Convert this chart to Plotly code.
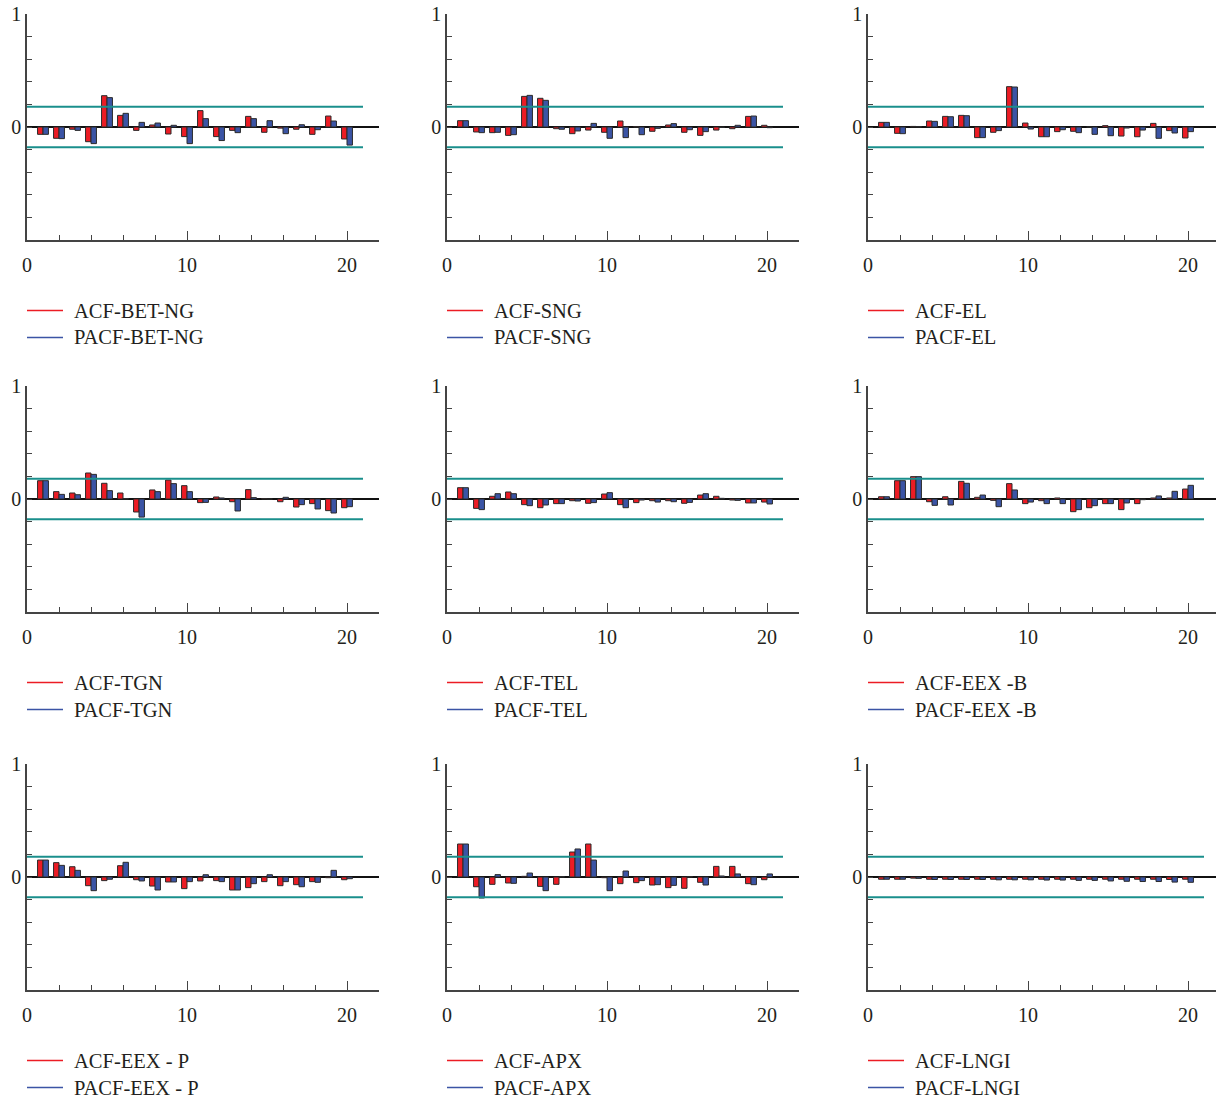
import plotly.graph_objects as go

# ---------------- data ----------------
lags = list(range(1, 21))
series_names = ["BET-NG", "SNG", "EL", "TGN", "TEL", "EEX -B", "EEX - P", "APX", "LNGI"]

acf_bet_ng = [-0.065, -0.10, -0.02, -0.13, 0.277, 0.103, -0.03, 0.018, -0.062, -0.085,
              0.145, -0.085, -0.03, 0.094, -0.047, -0.01, -0.02, -0.065, 0.097, -0.106]
pacf_bet_ng = [-0.065, -0.103, -0.03, -0.147, 0.26, 0.121, 0.041, 0.035, 0.015, -0.147,
               0.074, -0.12, -0.05, 0.074, 0.056, -0.059, 0.02, -0.024, 0.053, -0.16]

acf_sng = [0.056, -0.044, -0.05, -0.074, 0.271, 0.254, -0.015, -0.059, -0.027, -0.047,
           0.053, 0.003, -0.038, 0.018, -0.047, -0.074, -0.027, -0.015, 0.094, 0.015]
pacf_sng = [0.056, -0.05, -0.047, -0.068, 0.28, 0.236, -0.02, -0.035, 0.032, -0.10,
            -0.094, -0.068, -0.012, 0.03, -0.024, -0.041, -0.003, 0.015, 0.097, -0.006]

acf_el = [0.041, -0.056, 0.005, 0.053, 0.094, 0.103, -0.094, -0.047, 0.357, 0.035,
          -0.086, -0.041, -0.038, 0.0, 0.012, -0.08, -0.086, 0.032, -0.032, -0.097]
pacf_el = [0.041, -0.059, 0.003, 0.05, 0.091, 0.10, -0.094, -0.032, 0.354, -0.018,
           -0.086, -0.024, -0.05, -0.065, -0.077, -0.009, -0.027, -0.10, -0.053, -0.041]

acf_tgn = [0.162, 0.065, 0.053, 0.23, 0.139, 0.053, -0.115, 0.08, 0.168, 0.118,
           -0.032, 0.018, -0.024, 0.083, 0.003, -0.024, -0.071, -0.041, -0.103, -0.077]
pacf_tgn = [0.162, 0.041, 0.038, 0.218, 0.074, 0.003, -0.16, 0.065, 0.136, 0.065,
            -0.03, 0.009, -0.106, 0.012, 0.0, 0.015, -0.05, -0.088, -0.124, -0.068]

acf_tel = [0.10, -0.083, 0.024, 0.062, -0.05, -0.077, -0.041, -0.015, -0.038, 0.044,
           -0.05, -0.032, -0.015, -0.015, -0.038, 0.035, 0.024, -0.009, -0.035, -0.027]
pacf_tel = [0.10, -0.094, 0.047, 0.047, -0.059, -0.053, -0.041, -0.018, -0.032, 0.056,
            -0.077, -0.009, -0.027, -0.024, -0.03, 0.047, 0.006, -0.012, -0.035, -0.044]

acf_eex_b = [0.02, 0.162, 0.198, -0.024, 0.02, 0.156, 0.015, -0.012, 0.136, -0.041,
             -0.015, 0.009, -0.112, -0.077, -0.041, -0.094, -0.041, 0.009, 0.009, 0.088]
pacf_eex_b = [0.02, 0.162, 0.198, -0.056, -0.053, 0.139, 0.035, -0.068, 0.08, -0.027,
              -0.041, -0.041, -0.094, -0.059, -0.041, -0.035, -0.006, 0.027, 0.068, 0.121]

acf_eex_p = [0.15, 0.127, 0.091, -0.077, -0.032, 0.10, -0.024, -0.08, -0.044, -0.103,
             -0.035, -0.032, -0.115, -0.094, -0.041, -0.077, -0.068, -0.041, -0.006, -0.024]
pacf_eex_p = [0.15, 0.103, 0.059, -0.121, -0.02, 0.13, -0.035, -0.115, -0.044, -0.041,
              0.02, -0.041, -0.115, -0.059, 0.02, -0.041, -0.086, -0.047, 0.059, -0.015]

acf_apx = [0.292, -0.086, -0.065, -0.053, 0.006, -0.083, -0.065, 0.221, 0.292, -0.006,
           -0.059, -0.05, -0.071, -0.094, -0.10, -0.047, 0.094, 0.094, -0.059, -0.024]
pacf_apx = [0.292, -0.186, 0.021, -0.056, 0.035, -0.121, 0.003, 0.248, 0.15, -0.121,
            0.053, -0.032, -0.068, -0.074, 0.003, -0.071, 0.009, 0.027, -0.068, 0.027]

acf_lngi = [-0.02, -0.02, -0.01, -0.02, -0.02, -0.02, -0.02, -0.02, -0.02, -0.02,
            -0.02, -0.02, -0.02, -0.02, -0.02, -0.02, -0.02, -0.02, -0.022, -0.02]
pacf_lngi = [-0.02, -0.02, -0.012, -0.022, -0.022, -0.022, -0.022, -0.025, -0.025, -0.025,
             -0.027, -0.027, -0.03, -0.03, -0.035, -0.038, -0.04, -0.04, -0.045, -0.047]

conf_bound = 0.18
x_tick_labels = [0, 10, 20]
y_tick_labels = [0, 1]

acf_all = [acf_bet_ng, acf_sng, acf_el, acf_tgn, acf_tel, acf_eex_b, acf_eex_p, acf_apx, acf_lngi]
pacf_all = [pacf_bet_ng, pacf_sng, pacf_el, pacf_tgn, pacf_tel, pacf_eex_b, pacf_eex_p, pacf_apx, pacf_lngi]

# ---------------- style / layout ----------------
W, H = 1216, 1098
RED = "#ec1c24"
BLUE = "#3b54a5"
OUTLINE = "#2b2b2b"
TEAL = "#1a8f8c"
AXIS = "#444444"
TXT = "#231f20"
FONT = "Liberation Serif"

col_x0 = [27, 447, 868]
row_top = [14, 386, 764]
row_bot = [240, 612, 990]
px_per_lag = 16
xmax_full = 22

fig = go.Figure()
layout_axes = {}
shapes = []
annotations = []

for i, name in enumerate(series_names):
    r, c = divmod(i, 3)
    n = i + 1
    xa = "x" if n == 1 else f"x{n}"
    ya = "y" if n == 1 else f"y{n}"
    x0 = col_x0[c]
    x1 = min(x0 + xmax_full * px_per_lag, W)
    xmax = (x1 - x0) / px_per_lag

    fig.add_trace(go.Bar(x=lags, y=acf_all[i], width=0.34, offset=-0.34,
                         marker=dict(color=RED, line=dict(color=OUTLINE, width=1)),
                         xaxis=xa, yaxis=ya, showlegend=False, name="ACF-" + name))
    fig.add_trace(go.Bar(x=lags, y=pacf_all[i], width=0.34, offset=0,
                         marker=dict(color=BLUE, line=dict(color=OUTLINE, width=1)),
                         xaxis=xa, yaxis=ya, showlegend=False, name="PACF-" + name))
    for s in (1, -1):
        fig.add_trace(go.Scatter(x=[0, 21], y=[s * conf_bound] * 2, mode="lines",
                                 line=dict(color=TEAL, width=2), hoverinfo="skip",
                                 xaxis=xa, yaxis=ya, showlegend=False))

    xdom = [x0 / W, x1 / W]
    ydom = [1 - row_bot[r] / H, 1 - row_top[r] / H]
    xkey = "xaxis" if n == 1 else f"xaxis{n}"
    ykey = "yaxis" if n == 1 else f"yaxis{n}"
    layout_axes[xkey] = dict(
        domain=xdom, anchor=ya, range=[0, xmax], showline=True, linecolor=AXIS, linewidth=1.5,
        showgrid=False, zeroline=False, ticks="inside", ticklen=9, tickwidth=1.2, tickcolor=AXIS,
        tickmode="array", tickvals=x_tick_labels, ticktext=[str(v) for v in x_tick_labels],
        minor=dict(tick0=0, dtick=2, ticks="inside", ticklen=5, tickwidth=1.2, tickcolor=AXIS),
        tickfont=dict(family=FONT, size=20, color=TXT), ticklabelstandoff=6, automargin=False,
        fixedrange=True)
    layout_axes[ykey] = dict(
        domain=ydom, anchor=xa, range=[-1, 1], showline=True, linecolor=AXIS, linewidth=1.5,
        showgrid=False, zeroline=True, zerolinecolor="#111111", zerolinewidth=1.5,
        ticks="inside", ticklen=5, tickwidth=1.2, tickcolor=AXIS,
        tickmode="array", tickvals=y_tick_labels, ticktext=[str(v) for v in y_tick_labels],
        minor=dict(tick0=0, dtick=0.2, ticks="inside", ticklen=5, tickwidth=1.2, tickcolor=AXIS),
        tickfont=dict(family=FONT, size=20, color=TXT), automargin=False, fixedrange=True)

    # legend below each panel
    for k, (lab, col) in enumerate([("ACF-" + name, RED), ("PACF-" + name, BLUE)]):
        yy = row_bot[r] + 70.5 + 27 * k
        yp = 1 - yy / H
        shapes.append(dict(type="line", xref="paper", yref="paper",
                           x0=x0 / W, x1=(x0 + 36) / W, y0=yp, y1=yp,
                           line=dict(color=col, width=1.5)))
        annotations.append(dict(xref="paper", yref="paper", x=(x0 + 45) / W, y=yp,
                                xanchor="left", yanchor="middle", showarrow=False, text=lab,
                                font=dict(family=FONT, size=20.5, color=TXT)))

fig.update_layout(
    width=W, height=H, margin=dict(l=0, r=0, t=0, b=0),
    paper_bgcolor="white", plot_bgcolor="white", barmode="overlay",
    shapes=shapes, annotations=annotations, showlegend=False,
    font=dict(family=FONT, color=TXT), **layout_axes)

fig.write_html("out.html", config={"displayModeBar": False},
               post_script="document.body.style.margin='0';document.body.style.overflow='hidden';")
